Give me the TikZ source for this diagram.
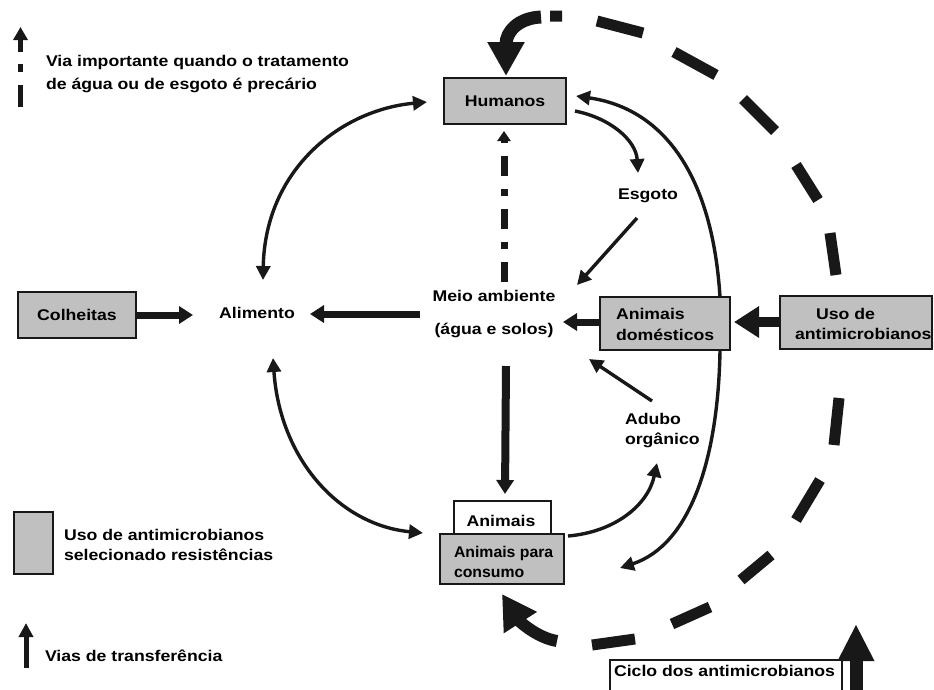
\documentclass[tikz,border=0pt]{standalone}
\usepackage{fontspec}
\setmainfont{Liberation Sans}[FakeStretch=1.14]
\newfontfamily\plainfont{Liberation Sans}[FakeStretch=1.02]
\usetikzlibrary{arrows.meta}
\definecolor{boxgray}{RGB}{192,192,192}
\definecolor{ink}{RGB}{24,24,24}
\begin{document}
\begin{tikzpicture}[x=1pt,y=-1pt,
  every node/.style={inner sep=0pt, outer sep=0pt},
  lbl/.style={font=\fontsize{15.5}{19}\selectfont\bfseries, text=black},
  lblp/.style={font=\fontsize{15.5}{19}\plainfont\bfseries, text=black},
  gbox/.style={draw=ink, line width=1.8pt, fill=boxgray},
  wbox/.style={draw=ink, line width=1.6pt, fill=white},
  thinarr/.style={draw=ink, line width=3.4pt, -{Triangle[length=14pt,width=14pt]}},
  thinboth/.style={draw=ink, line width=3.4pt, {Triangle[length=14pt,width=14pt]}-{Triangle[length=14pt,width=14pt]}},
  thkarr/.style={draw=ink, line width=7pt, -{Triangle[length=14pt,width=17pt]}},
  bigdash/.style={draw=ink, line width=11pt},
]
\fill[white] (0,0) rectangle (934,689);
\useasboundingbox (0,0) rectangle (934,689);

% ---------- named end points ----------
\coordinate (alimN) at (263,280);
\coordinate (humW) at (427,102);
\coordinate (alimS) at (273,358);
\coordinate (apcW) at (423,533);
\coordinate (alimW) at (193,315);
\coordinate (meioW) at (420,314);
\coordinate (alimE) at (310,314);
\coordinate (adomW) at (600,322);
\coordinate (meioE) at (563,322);
\coordinate (meioS) at (506,366);
\coordinate (aniN) at (505,494);
\coordinate (meioN) at (504,282);
\coordinate (humS) at (504,131);
\coordinate (humE1) at (575,111);
\coordinate (esgN) at (638,173);
\coordinate (esgS) at (637,218);
\coordinate (meioNE) at (577,285);
\coordinate (adomN) at (720,297);
\coordinate (humE2) at (576,96);
\coordinate (adubNW) at (652,401);
\coordinate (meioSE) at (589,359);
\coordinate (aniE) at (568,536);
\coordinate (adubS) at (657,463);
\coordinate (adomS) at (720,351);
\coordinate (apcE) at (620,568);
\coordinate (cycTop) at (541,17);
\coordinate (humN) at (506,76);
\coordinate (cycBot) at (557,641);
\coordinate (apcS) at (502,594);
\coordinate (cicloIn) at (856,700);
\coordinate (cicloUp) at (856,624);
\coordinate (usoW) at (780,322);
\coordinate (adomE) at (734,322);

% ---------- antimicrobial cycle (heavy dashed) ----------
\draw[bigdash] (550,16)--(562,16) (597,21)--(643,33) (674,52)--(716,75)
  (743,99)--(775,131) (796,165)--(818,200) (830,233)--(836,275)
  (839,398)--(834,445) (820,480)--(796,520) (771,555)--(741,580)
  (710,607)--(672,624) (635,639)--(592,645);
\draw[draw=ink, line width=13pt, -{Triangle[length=34pt,width=35pt]}]
  (cycTop) .. controls (518,18) and (506,32) .. (humN);
\draw[draw=ink, line width=12pt, -{Triangle[length=34pt,width=37pt]}]
  (cycBot) .. controls (538,638) and (520,622) .. (apcS);
\draw[draw=ink, line width=13pt, -{Triangle[length=37pt,width=34pt]}]
  (cicloIn) -- (cicloUp);

% ---------- thin connectors ----------
\draw[thinboth] (alimN) .. controls (265,170) and (340,110) .. (humW);
\draw[thinboth] (alimS) .. controls (280,460) and (340,525) .. (apcW);
\draw[thinarr] (humE1) .. controls (610,118) and (636,140) .. (esgN);
\draw[thinarr] (esgS) -- (meioNE);
\draw[thinarr] (adomN) .. controls (712,170) and (660,108) .. (humE2);
\draw[thinarr] (adubNW) -- (meioSE);
\draw[thinarr] (aniE) .. controls (615,532) and (648,505) .. (adubS);
\draw[thinarr] (adomS) .. controls (718,460) and (690,545) .. (apcE);

% ---------- thick connectors ----------
\draw[thkarr] (meioW) -- (alimE);
\draw[thkarr] (adomW) -- (meioE);
\draw[thkarr, line width=8pt, -{Triangle[length=14pt,width=17pt]}] (meioS) -- (aniN);
\draw[draw=ink, line width=7pt, dash pattern=on 20pt off 13pt on 7pt off 13pt,
  -{Triangle[length=10pt,width=13pt]}] (meioN) -- (humS);
\draw[draw=ink, line width=10pt, -{Triangle[length=25pt,width=30pt]}] (usoW) -- (adomE);

% ---------- boxes ----------
\node[gbox, minimum width=122pt, minimum height=46pt, lbl] (hum) at (505,101) {Humanos};
\node[gbox, minimum width=118pt, minimum height=46pt, lbl] (colh) at (77,315) {Colheitas};
\draw[thkarr] (colh.east) -- (alimW);
\node[gbox, minimum width=130pt, minimum height=53pt] (adom) at (665,323.5) {};
\node[gbox, minimum width=152pt, minimum height=53pt] (uso) at (856,322.5) {};
\node[wbox, minimum width=97pt, minimum height=33pt] (ani) at (502.5,517.5) {};
\node[gbox, minimum width=124pt, minimum height=50pt] (apc) at (502,559) {};
\node[wbox, minimum width=232pt, minimum height=40pt, anchor=north west] (ciclo) at (610,660) {};
\node[gbox, minimum width=39pt, minimum height=62pt] (legbox) at (33.5,543) {};

% ---------- texts ----------
\node[lbl, anchor=base] (esg) at (648,199) {Esgoto};
\node[lbl, anchor=base] (alim) at (257,318) {Alimento};
\node[lbl, anchor=base] (meio) at (494,301) {Meio ambiente};
\node[lbl, anchor=base] (meio2) at (494,334) {(água e solos)};
\node[lbl, anchor=base west] (adomt1) at (616,319) {Animais};
\node[lbl, anchor=base west] (adomt2) at (616,340) {domésticos};
\node[lbl, anchor=base west] (usot1) at (816,319) {Uso de};
\node[lbl, anchor=base west] (usot2) at (795,339) {antimicrobianos};
\node[lbl, anchor=base west] (adub1) at (625,424) {Adubo};
\node[lbl, anchor=base west] (adub2) at (625,444) {orgânico};
\node[lbl, anchor=base] (anit) at (501,526) {Animais};
\node[lblp, anchor=base west] (apct1) at (454,557) {Animais para};
\node[lblp, anchor=base west] (apct2) at (454,577) {consumo};
\node[lbl, anchor=base west] (ciclot) at (614,676) {Ciclo dos antimicrobianos};

% ---------- legend ----------
\coordinate (legA1) at (20.5,107);
\coordinate (legA2) at (20.5,27);
\draw[draw=ink, line width=5pt, dash pattern=on 22pt off 13pt on 8pt off 12pt,
  -{Triangle[length=13pt,width=14pt]}] (legA1) -- (legA2);
\node[lbl, anchor=base west] (leg1) at (46,66) {Via importante quando o tratamento};
\node[lbl, anchor=base west] (leg2) at (46,89) {de água ou de esgoto é precário};
\node[lbl, anchor=base west] (leg3) at (64,540) {Uso de antimicrobianos};
\node[lbl, anchor=base west] (leg4) at (64,560) {selecionado resistências};
\coordinate (legB1) at (26,668);
\coordinate (legB2) at (26,623);
\draw[draw=ink, line width=5pt, -{Triangle[length=14pt,width=14pt]}] (legB1) -- (legB2);
\node[lbl, anchor=base west] (leg5) at (45,661) {Vias de transferência};
\end{tikzpicture}
\end{document}
